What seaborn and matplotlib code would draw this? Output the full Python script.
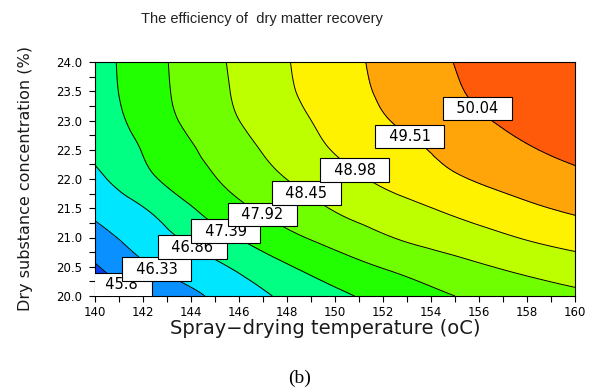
import numpy as np
import pandas as pd
import matplotlib
matplotlib.use("Agg")
import matplotlib.pyplot as plt
import matplotlib.tri as mtri
import seaborn as sns
from matplotlib.ticker import MultipleLocator, FormatStrFormatter

# response surface (efficiency, %)
temperature = [140, 142.5, 145, 147.5, 150, 152.5, 155, 157.5, 160]
concentration = [20.0, 20.5, 21.0, 21.5, 22.0, 22.5, 23.0, 23.5, 24.0]
efficiency = [
    [45.40, 45.93, 46.41, 46.88, 47.28, 47.61, 47.92, 48.13, 48.33],
    [45.75, 46.35, 46.76, 47.25, 47.67, 48.01, 48.29, 48.54, 48.75],
    [46.14, 46.66, 47.19, 47.71, 48.11, 48.46, 48.71, 48.97, 49.19],
    [46.46, 46.96, 47.61, 48.08, 48.49, 48.80, 49.09, 49.37, 49.60],
    [46.73, 47.36, 47.90, 48.37, 48.78, 49.14, 49.45, 49.70, 49.91],
    [46.97, 47.53, 48.08, 48.57, 49.01, 49.34, 49.66, 49.95, 50.17],
    [47.07, 47.69, 48.25, 48.72, 49.15, 49.54, 49.86, 50.14, 50.33],
    [47.14, 47.77, 48.32, 48.82, 49.26, 49.65, 49.99, 50.27, 50.45],
    [47.16, 47.79, 48.35, 48.86, 49.30, 49.70, 50.05, 50.30, 50.50],
]
levels = [45.80, 46.33, 46.86, 47.39, 47.92, 48.45, 48.98, 49.51, 50.04]

# where the contour labels sit (temperature, concentration)
label_spots = [(141.17, 20.22), (142.63, 20.50), (144.0, 20.79), (145.42, 21.08),
               (146.96, 21.38), (148.79, 21.74), (150.83, 22.15), (152.8, 22.55),
               (155.8, 23.15)]

band_colors = ["#0a3cf5", "#0a90ff", "#00e6ff", "#00ff82", "#22ff00",
               "#70ff00", "#beff00", "#fff200", "#ffa50a", "#ff5a0a"]

df = pd.DataFrame(efficiency, index=concentration, columns=temperature)

sns.set_theme(style="white")
plt.rcParams['font.family'] = ['DejaVu Sans']

fig = plt.figure(figsize=(6.01, 3.92), dpi=100)
ax = fig.add_axes([95 / 601, 1 - 296 / 392, 480 / 601, 234 / 392])

X, Y = np.meshgrid(df.columns.values, df.index.values)
triang = mtri.Triangulation(X.ravel(), Y.ravel())
refiner = mtri.UniformTriRefiner(triang)
tri_fine, z_fine = refiner.refine_field(df.values.ravel(), subdiv=3)

ax.tricontourf(tri_fine, z_fine, levels=[40] + levels + [55], colors=band_colors)
cs = ax.tricontour(tri_fine, z_fine, levels=levels, colors="black", linewidths=0.7)

texts = ax.clabel(cs, levels=levels, inline=False, fontsize=10.5, colors="black",
                  fmt=lambda v: "  " + f"{v:.2f}".rstrip("0") + "  ",
                  manual=label_spots)
for t in texts:
    t.set_rotation(0)
    t.set_bbox(dict(boxstyle="square,pad=0.3", facecolor="white",
                    edgecolor="black", linewidth=0.8))

ax.set_xlim(140, 160)
ax.set_ylim(20, 24)
ax.xaxis.set_major_locator(MultipleLocator(2))
ax.xaxis.set_minor_locator(MultipleLocator(1))
ax.yaxis.set_major_locator(MultipleLocator(0.5))
ax.yaxis.set_minor_locator(MultipleLocator(0.25))
ax.yaxis.set_major_formatter(FormatStrFormatter("%.1f"))
ax.tick_params(which="both", direction="out", length=4, width=0.8,
               colors="black", labelsize=8.5, bottom=True, left=True)
ax.tick_params(axis="x", which="major", pad=3)
ax.tick_params(axis="y", which="major", pad=5)
for s in ax.spines.values():
    s.set_color("black")
    s.set_linewidth(0.8)

ax.set_xlabel("Spray\u2212drying temperature (oC)", fontsize=14, color="#1a1a1a")
ax.set_ylabel("Dry substance concentration (%)", fontsize=11.5, color="#1a1a1a")
ax.xaxis.set_label_coords(0.479, -0.1)
ax.yaxis.set_label_coords(-0.13, 0.50)

fig.text(262 / 601, 1 - 19 / 392, "The efficiency of  dry matter recovery",
         ha="center", va="center", fontsize=10.5, color="#222222",
         family=["Liberation Sans"])
fig.text(300 / 601, 1 - 378 / 392, "(b)", ha="center", va="center",
         fontsize=14, color="black", family=["Liberation Serif"])

fig.savefig("out.png", dpi=100)
